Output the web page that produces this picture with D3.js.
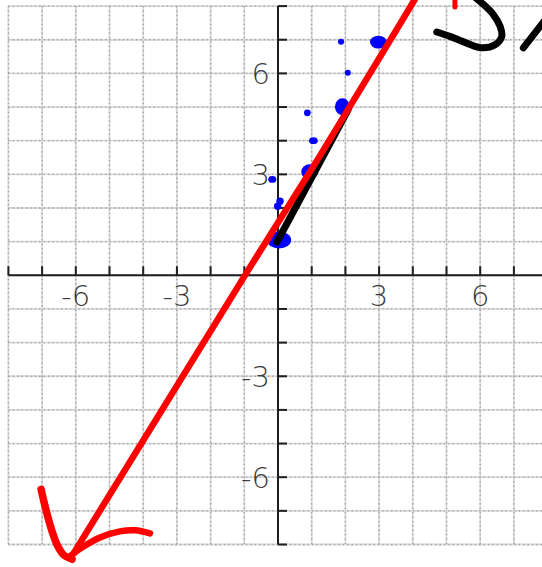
<!DOCTYPE html>
<html>
<head>
<meta charset="utf-8">
<script src="https://cdn.jsdelivr.net/npm/d3@7"></script>
<style>
  body { margin: 0; background: #fff; }
  svg { display: block; }
  .lbl { font-family: "DejaVu Sans", sans-serif; font-size: 29px; font-weight: 300; fill: #3a3a3a; }
</style>
</head>
<body>
<div id="chart"></div>
<script>
/** Axis ticks & labels */
const gridValues = d3.range(-8, 9);
const xLabels = [-6, -3, 3, 6];
const yLabels = [6, 3, -3, -6];

/** Blue dots (data units) */
const dotX = [2.98, 1.87, 2.07, 1.91, 0.87, 1.05, 0.94, -0.17, 0.06, -0.01, 0.03];
const dotY = [6.93, 6.94, 6.02, 5.01, 4.83, 4.0, 3.08, 2.85, 2.2, 2.05, 1.05];
const dotRx = [0.25, 0.09, 0.09, 0.22, 0.1, 0.13, 0.25, 0.12, 0.11, 0.11, 0.36];
const dotRy = [0.19, 0.09, 0.09, 0.25, 0.1, 0.1, 0.22, 0.1, 0.11, 0.11, 0.25];

/** Black segment */
const blackX = [-0.03, 2.08];
const blackY = [0.99, 4.92];

/** Red line (hand drawn) */
const redX = [-6.07, -0.88, 1.17, 3.52, 4.15];
const redY = [-8.27, 0.16, 3.43, 7.3, 8.35];

/** Arrow head strokes */
const arrowLeftX = [-7.03, -6.88, -6.71, -6.53, -6.35, -6.11];
const arrowLeftY = [-6.36, -6.99, -7.59, -8.06, -8.32, -8.44];
const arrowRightX = [-6.17, -5.82, -5.28, -4.69, -4.24, -3.8];
const arrowRightY = [-8.35, -8.09, -7.79, -7.61, -7.58, -7.67];

/** Scribbles top right */
const redMarkX = [5.25, 5.25];
const redMarkY = [8.3, 7.97];
const scribbleX = [4.71, 5.1, 5.6, 6.04, 6.44, 6.64, 6.59, 6.39, 6.04, 5.82];
const scribbleY = [7.23, 7.1, 6.9, 6.76, 6.85, 7.1, 7.4, 7.75, 8.1, 8.28];
const slashX = [7.28, 7.95];
const slashY = [6.76, 7.62];

/** Graph configs */
const width = 542;
const height = 567;

const x = d3.scaleLinear().domain([-8, 8]).range([8.4, 547.6]);
const y = d3.scaleLinear().domain([-8, 8]).range([544.5, 6.1]);

const svg = d3.select("#chart").append("svg")
  .attr("width", width)
  .attr("height", height);

/** Grid: light band + darker dots */
const grid = svg.append("g");
[["#d9d9d9", null, 1.8], ["#9a9a9a", "1.2 3.2", 1.3]].forEach(([c, dash, w]) => {
  grid.selectAll(null).data(gridValues).enter().append("line")
    .attr("x1", d => x(d)).attr("x2", d => x(d))
    .attr("y1", y(8)).attr("y2", y(-8))
    .attr("stroke", c).attr("stroke-width", w).attr("stroke-dasharray", dash);
  grid.selectAll(null).data(gridValues).enter().append("line")
    .attr("y1", d => y(d)).attr("y2", d => y(d))
    .attr("x1", x(-8)).attr("x2", x(8))
    .attr("stroke", c).attr("stroke-width", w).attr("stroke-dasharray", dash);
});

/** Axes */
const axis = svg.append("g").attr("stroke", "#1e1e1e").attr("stroke-width", 2);
axis.append("line").attr("x1", x(-8)).attr("x2", x(8)).attr("y1", y(0)).attr("y2", y(0));
axis.append("line").attr("x1", x(0)).attr("x2", x(0)).attr("y1", y(8)).attr("y2", y(-8));
axis.selectAll(null).data(gridValues.filter(d => d !== 0)).enter().append("line")
  .attr("x1", d => x(d)).attr("x2", d => x(d))
  .attr("y1", y(0)).attr("y2", y(0) - 9);
axis.selectAll(null).data(gridValues.filter(d => d !== 0)).enter().append("line")
  .attr("y1", d => y(d)).attr("y2", d => y(d))
  .attr("x1", x(0)).attr("x2", x(0) + 9);

/** Labels */
svg.selectAll(null).data(xLabels).enter().append("text")
  .attr("class", "lbl")
  .attr("x", d => x(d))
  .attr("y", y(0) + 31)
  .attr("text-anchor", "middle")
  .text(d => d);
svg.selectAll(null).data(yLabels).enter().append("text")
  .attr("class", "lbl")
  .attr("x", x(0) - 8)
  .attr("y", d => y(d) + 10.8)
  .attr("text-anchor", "end")
  .text(d => d);

/** Blue dots */
svg.selectAll(null).data(d3.range(dotX.length)).enter().append("ellipse")
  .attr("cx", i => x(dotX[i]))
  .attr("cy", i => y(dotY[i]))
  .attr("rx", i => x(dotRx[i]) - x(0))
  .attr("ry", i => y(0) - y(dotRy[i]))
  .attr("fill", "#0000ff");

/** Stroke helper */
const stroke = (xs, ys, color, w, curve = d3.curveLinear) => {
  const line = d3.line().x(i => x(xs[i])).y(i => y(ys[i])).curve(curve);
  svg.append("path")
    .attr("d", line(d3.range(xs.length)))
    .attr("fill", "none")
    .attr("stroke", color)
    .attr("stroke-width", w)
    .attr("stroke-linecap", "round")
    .attr("stroke-linejoin", "round");
};

stroke(blackX, blackY, "#000", 7);
stroke(redX, redY, "#ff0000", 6.5);
stroke(arrowLeftX, arrowLeftY, "#ff0000", 7.5, d3.curveCatmullRom);
stroke(arrowRightX, arrowRightY, "#ff0000", 6.5, d3.curveCatmullRom);
stroke(redMarkX, redMarkY, "#ff0000", 5);
stroke(scribbleX, scribbleY, "#000", 7, d3.curveCatmullRom);
stroke(slashX, slashY, "#000", 7);
</script>
</body>
</html>
